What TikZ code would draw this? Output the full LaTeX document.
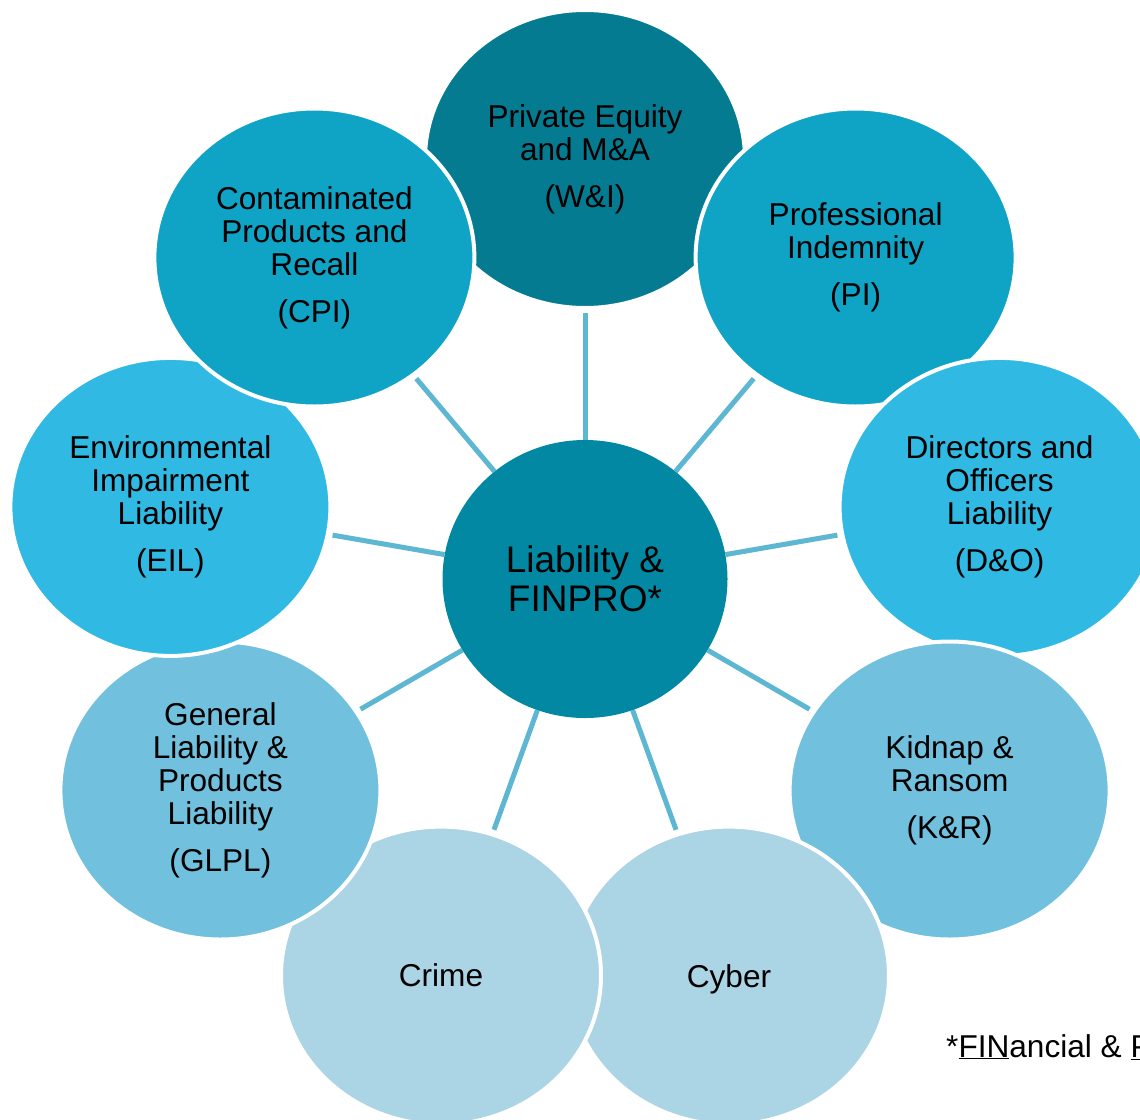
\documentclass[tikz,border=0pt]{standalone}
\usepackage{fontspec}
\setmainfont{Liberation Sans}
\usetikzlibrary{shapes.geometric,backgrounds}
\definecolor{cwi}{HTML}{047B91}
\definecolor{ccen}{HTML}{0288A2}
\definecolor{ctwo}{HTML}{0FA3C6}
\definecolor{cthree}{HTML}{2FB9E3}
\definecolor{cfour}{HTML}{71C1DE}
\definecolor{cfive}{HTML}{ABD4E4}
\definecolor{cspoke}{HTML}{5DB7D3}
\tikzset{
  outer/.style={ellipse, minimum width=320, minimum height=298, inner sep=0pt,
    draw=white, line width=4pt, align=center, text=black,
    font=\fontsize{31.6}{33}\selectfont},
  spoke/.style={draw=cspoke, line width=5pt, shorten >=3pt},
}
\begin{document}
\begin{tikzpicture}[x=1pt,y=-1pt]
\useasboundingbox (0,0) rectangle (1140,1119);
\node[outer, fill=cwi] (wi) at ({585+421*cos(90)},{580-421*sin(90)}) {Private Equity\\and M\&A\\[14pt](W\&I)};
\node[outer, fill=ctwo] (pi) at ({585+421*cos(50)},{580-421*sin(50)}) {Professional\\Indemnity\\[14pt](PI)};
\node[outer, fill=cthree] (do) at ({585+421*cos(10)},{580-421*sin(10)}) {Directors and\\Officers\\Liability\\[14pt](D\&O)};
\node[outer, fill=cfour] (kr) at ({585+421*cos(-30)},{580-421*sin(-30)}) {Kidnap \&\\Ransom\\[14pt](K\&R)};
\node[outer, fill=cfive, text depth=0pt] (cy) at ({585+421*cos(-70)},{580-421*sin(-70)}) {Cyber};
\node[outer, fill=cfive] (cr) at ({585+421*cos(-110)},{580-421*sin(-110)}) {Crime};
\node[outer, fill=cfour] (gl) at ({585+421*cos(-150)},{580-421*sin(-150)}) {General\\Liability \&\\Products\\Liability\\[14pt](GLPL)};
\node[outer, fill=cthree] (ei) at ({585+421*cos(170)},{580-421*sin(170)}) {Environmental\\Impairment\\Liability\\[14pt](EIL)};
\node[outer, fill=ctwo] (cp) at ({585+421*cos(130)},{580-421*sin(130)}) {Contaminated\\Products and\\Recall\\[14pt](CPI)};
\node[ellipse, fill=ccen, minimum width=285, minimum height=278, inner sep=0pt,
  align=center, font=\fontsize{37}{39}\selectfont] (c) at (585,579) {Liability \&\\FINPRO*};
\begin{scope}[on background layer]
\foreach \o in {wi,pi,do,kr,cy,cr,gl,ei,cp}
  \draw[spoke] (c) -- (\o);
\end{scope}
\node[anchor=base west, inner sep=0pt, font=\fontsize{31.6}{33}\selectfont] (fn) at (946,1057)
  {*\underline{FIN}ancial \& \underline{PRO}fessional};
\end{tikzpicture}
\end{document}
